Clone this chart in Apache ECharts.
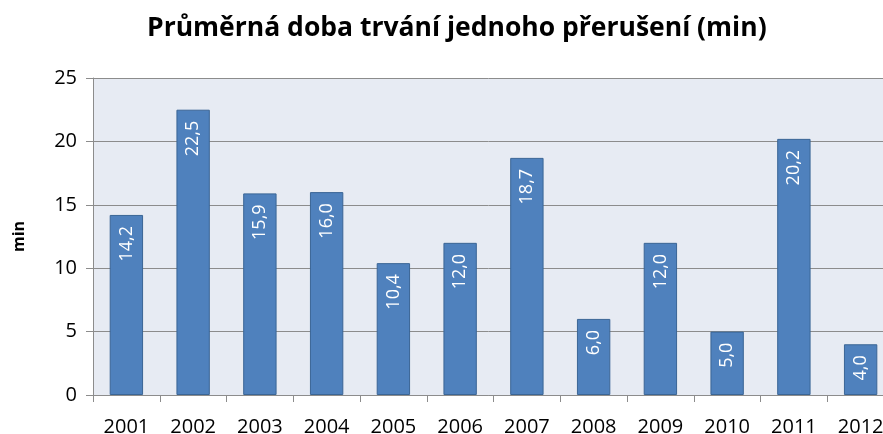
<!DOCTYPE html>
<html><head><meta charset="utf-8">
<script src="https://cdn.jsdelivr.net/npm/echarts@6/dist/echarts.min.js"></script>
<style>html,body{margin:0;padding:0;background:#fff}#c{width:883px;height:434px}</style>
</head><body><div id="c"></div>
<script>
const categories = ['2001','2002','2003','2004','2005','2006','2007','2008','2009','2010','2011','2012'];
const values = [14.2, 22.5, 15.9, 16.0, 10.4, 12.0, 18.7, 6.0, 12.0, 5.0, 20.2, 4.0];
const titleText = 'Průměrná doba trvání jednoho přerušení (min)';
const yAxisName = 'min';

const FONT = 'Open Sans';
const chart = echarts.init(document.getElementById('c'), null, {renderer:'canvas'});
chart.setOption({
  animation: false,
  title: {
    text: titleText, left: 142, top: 10,
    textStyle: {fontFamily: FONT, fontWeight: 'bold', fontSize: 26.5, color: '#000'}
  },
  grid: {left: 93, width: 801, top: 78, height: 317, outerBoundsMode: 'none', containLabel: false,
         show: true, backgroundColor: '#e7ebf3', borderWidth: 0},
  xAxis: {
    type: 'category', data: categories,
    axisLine: {show: true, lineStyle: {color: '#8c8c8c', width: 1}},
    axisTick: {show: true, length: 7, lineStyle: {color: '#8c8c8c'}},
    axisLabel: {color: '#000', fontFamily: FONT, fontSize: 20, margin: 22}
  },
  yAxis: {
    type: 'value', min: 0, max: 25, interval: 5,
    name: yAxisName, nameLocation: 'middle', nameGap: 66, nameRotate: 90,
    nameTextStyle: {fontFamily: FONT, fontWeight: 'bold', fontSize: 16, color: '#000'},
    axisLine: {show: true, lineStyle: {color: '#8c8c8c', width: 1}},
    axisTick: {show: true, length: 7, inside: false, lineStyle: {color: '#8c8c8c'}},
    axisLabel: {color: '#000', fontFamily: FONT, fontSize: 20, margin: 16},
    splitLine: {show: true, lineStyle: {color: '#8c8c8c', width: 1}}
  },
  series: [{
    type: 'bar', data: values, barCategoryGap: '50%',
    itemStyle: {color: '#4f81bd', borderColor: '#3a6595', borderWidth: 1},
    label: {
      show: true, position: 'insideTop', rotate: 90, align: 'right', verticalAlign: 'middle',
      distance: 11, color: '#fff', fontFamily: FONT, fontSize: 18,
      formatter: p => p.value.toFixed(1).replace('.', ',')
    }
  }]
});
</script></body></html>
